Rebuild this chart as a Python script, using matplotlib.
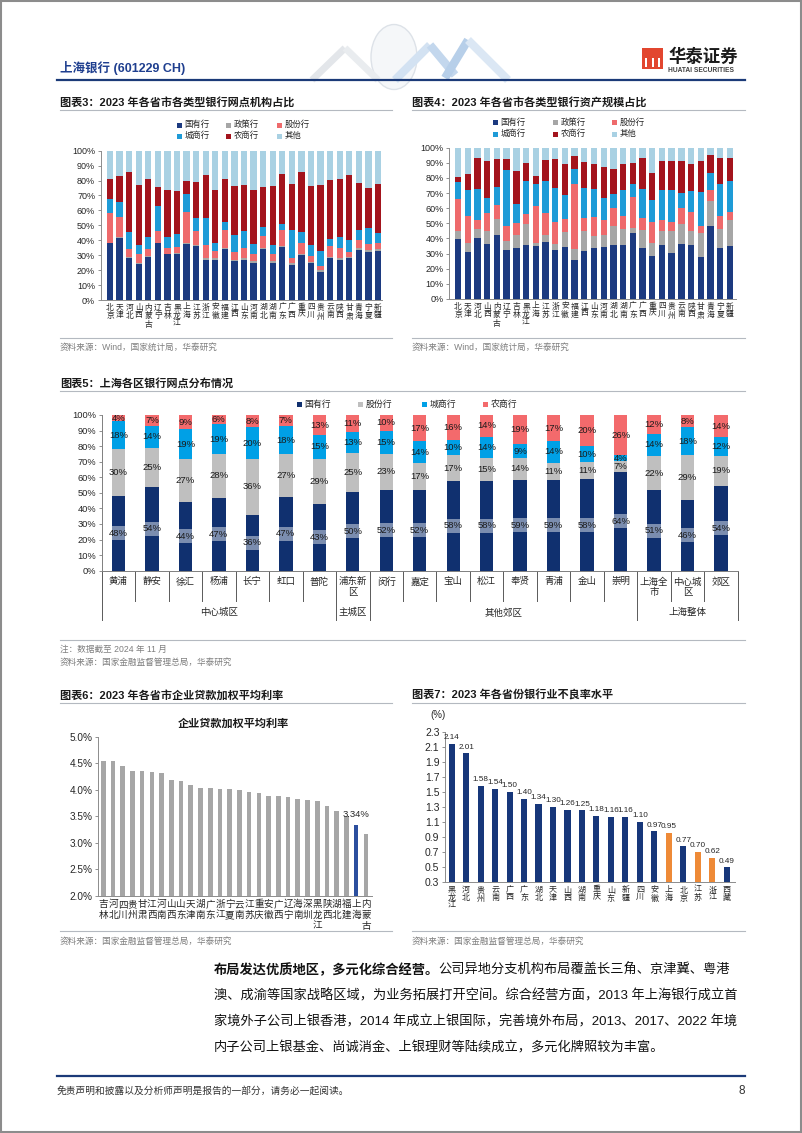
import matplotlib
matplotlib.use('Agg')
import matplotlib.pyplot as plt
from matplotlib.lines import Line2D
from matplotlib.patches import Rectangle, Circle
import matplotlib.transforms as mtransforms
import numpy as np

plt.rcParams['font.family'] = ['Liberation Sans', 'Noto Sans CJK SC']
plt.rcParams['axes.unicode_minus'] = False

# ---------------- data ----------------
provinces = ['北京', '天津', '河北', '山西', '内蒙古', '辽宁', '吉林', '黑龙江', '上海', '江苏',
             '浙江', '安徽', '福建', '江西', '山东', '河南', '湖北', '湖南', '广东', '广西',
             '重庆', '四川', '贵州', '云南', '陕西', '甘肃', '青海', '宁夏', '新疆']
bank_types = ['国有行', '政策行', '股份行', '城商行', '农商行', '其他']

# Figure 3: branch share (%)
branch_state = [38, 41.5, 28, 24, 28.5, 38, 30.5, 30.5, 37.5, 36, 27, 27, 34, 26, 27, 25, 34, 25, 35.5, 23.5,
                30, 24.5, 19, 28, 26.5, 28, 33.5, 32, 33]
branch_policy = [0.5, 0.5, 1, 1, 1, 0.5, 0.5, 1, 0.5, 1, 1, 1, 1, 1, 1, 1, 1, 1, 0.5, 1.5,
                 1, 1, 1, 1, 1.5, 1, 1.5, 1.5, 1]
branch_joint = [20, 13.5, 5, 6, 4.5, 8, 4, 4, 21, 9, 9, 4.5, 12, 5, 7, 5, 8, 4.5, 11, 3,
                7, 4, 3, 7.5, 7, 3, 5, 4, 4]
branch_city = [9, 10, 11.5, 6, 8.5, 16.5, 7.5, 8.5, 12, 9, 18, 6, 5, 11.5, 11, 6.5, 6, 6.5, 4, 19,
               7.5, 7.5, 10, 4.5, 7, 8.5, 7, 11, 7]
branch_rural = [13.5, 17.5, 40, 40, 38.5, 13, 31, 29, 8.5, 24, 29, 35.5, 29, 33, 31, 36, 26.5, 39.5, 33.5, 31,
                40, 39.5, 44, 39.5, 39, 43.5, 31.5, 26.5, 32.5]
branch_other = [19, 17, 14.5, 23, 19, 24, 26.5, 27, 20.5, 21, 16, 26, 19, 23.5, 23, 26.5, 24.5, 23.5, 15.5, 22,
                14.5, 23.5, 23, 19.5, 19, 16, 21.5, 25, 22.5]

# Figure 4: asset share (%)
asset_state = [39.5, 31, 40.5, 36.5, 42, 32.5, 33.5, 36, 35, 37.5, 32.5, 34.5, 26, 31.5, 34, 34.5, 35.5, 35.5, 43.5, 33.5,
               28.5, 36, 30.5, 36.5, 35.5, 27.5, 48, 33.5, 35]
asset_policy = [5.5, 6, 5.5, 8.5, 11, 6, 9, 13.5, 2, 5, 4, 9.5, 7, 13.5, 7.5, 7.5, 13, 11, 3.5, 12,
                8.5, 9, 14.5, 13, 9.5, 16, 16.5, 13, 17]
asset_joint = [21, 18, 6, 12, 9, 9.5, 7.5, 7, 24.5, 14.5, 14.5, 9, 43, 8.5, 12.5, 10, 11.5, 8.5, 20.5, 8,
               14, 7.5, 6, 10.5, 12.5, 5, 7.5, 8.5, 5.5]
asset_city = [11.5, 17, 20.5, 10, 12, 37, 13, 21.5, 14.5, 21, 22.5, 16, 10, 20, 18.5, 15, 9.5, 17, 8.5, 19,
              14.5, 19.5, 21, 10, 14, 22.5, 11, 21, 20.5]
asset_rural = [3, 10.5, 20.5, 24, 18.5, 7.5, 21.5, 12, 5, 14, 19, 20, 8.5, 17, 17, 20, 16.5, 17.5, 14, 20.5,
               17.5, 19.5, 19.5, 21.5, 18, 20.5, 12.5, 17, 15.5]
asset_other = [19.5, 17.5, 7, 9, 7.5, 7.5, 15.5, 10, 19, 8, 7.5, 11, 5.5, 9.5, 10.5, 13, 14, 10.5, 10, 7,
               17, 8.5, 8.5, 8.5, 10.5, 8.5, 4.5, 7, 6.5]

# Figure 5: Shanghai districts (%)
districts = ['黄浦', '静安', '徐汇', '杨浦', '长宁', '虹口', '普陀', '浦东新区', '闵行', '嘉定', '宝山', '松江',
             '奉贤', '青浦', '金山', '崇明', '上海全市', '中心城区', '郊区']
district_groups = ['中心城区', '主城区', '其他郊区', '上海整体']
district_group_sizes = [7, 1, 8, 3]
dist_types = ['国有行', '股份行', '城商行', '农商行']
dist_state = [48, 54, 44, 47, 36, 47, 43, 50, 52, 52, 58, 58, 59, 59, 58, 64, 51, 46, 54]
dist_joint = [30, 25, 27, 28, 36, 27, 29, 25, 23, 17, 17, 15, 14, 11, 11, 7, 22, 29, 19]
dist_city = [18, 14, 19, 19, 20, 18, 15, 13, 15, 14, 10, 14, 9, 14, 10, 4, 14, 18, 12]
dist_rural = [4, 7, 9, 6, 8, 7, 13, 11, 10, 17, 16, 14, 19, 17, 20, 26, 12, 8, 14]

# Figure 6: corporate loan weighted average rate (%)
rate_regions = ['吉林', '河北', '四川', '贵州', '甘肃', '江西', '河南', '山西', '山东', '天津', '湖南', '广东',
                '浙江', '宁夏', '云南', '江苏', '重庆', '安徽', '广西', '辽宁', '海南', '深圳', '黑龙江', '陕西',
                '湖北', '福建', '上海', '内蒙古']
rates = [4.55, 4.55, 4.45, 4.36, 4.35, 4.33, 4.31, 4.18, 4.17, 4.09, 4.04, 4.03, 4.02, 4.01, 4.00, 3.96,
         3.94, 3.89, 3.89, 3.87, 3.83, 3.81, 3.79, 3.70, 3.60, 3.50, 3.34, 3.17]
rate_highlight = '上海'

# Figure 7: NPL ratio (%)
npl_regions = ['黑龙江', '河北', '贵州', '云南', '广西', '广东', '湖北', '天津', '山西', '湖南', '重庆', '山东',
               '新疆', '四川', '安徽', '上海', '北京', '江苏', '浙江', '西藏']
npl = [2.14, 2.01, 1.58, 1.54, 1.50, 1.40, 1.34, 1.30, 1.26, 1.25, 1.18, 1.16, 1.16, 1.10, 0.97, 0.95,
       0.77, 0.70, 0.62, 0.49]
npl_highlight = ['上海', '江苏', '浙江']

# ---------------- figure helpers ----------------
W, H = 802, 1133
fig = plt.figure(figsize=(W / 100, H / 100), dpi=100)
fig.patch.set_facecolor('white')


def add_ax(l, t, r, b):
    return fig.add_axes([l / W, 1 - b / H, (r - l) / W, (b - t) / H])


def ftext(x, y, s, **kw):
    return fig.text(x / W, 1 - y / H, s, **kw)


def fline(x0, x1, y0, y1, **kw):
    fig.add_artist(Line2D([x0 / W, x1 / W], [1 - y0 / H, 1 - y1 / H], **kw))


def fsquare(x, y, size, color):
    fig.add_artist(Rectangle((x / W, 1 - (y + size / 2) / H), size / W, size / H,
                             transform=fig.transFigure, facecolor=color, edgecolor='none'))


def legend_item(x, y, color, label, fs):
    fsquare(x, y, 5, color)
    ftext(x + 7.5, y, label, fontsize=fs, va='center', ha='left', color='#262626')


TXT = '#262626'
GRAY = '#7f7f7f'

# page border
fig.add_artist(Rectangle((0.001, 0.001), 0.998, 0.998, transform=fig.transFigure,
                         facecolor='none', edgecolor='#8c8c8c', lw=1.5))

# ---------------- header ----------------
fig.add_artist(Circle((394 / W, 1 - 57 / H), 23 / W, transform=fig.transFigure,
                      facecolor='#f5f7f9', edgecolor='#dde2e8', lw=1.0))
fline(312, 345, 80, 48, color='#e3e6ea', lw=5, solid_capstyle='butt')
fline(345, 378, 48, 80, color='#e9ecef', lw=5, solid_capstyle='butt')
fline(395, 430, 80, 45, color='#d3e2f2', lw=6, solid_capstyle='butt')
fline(430, 455, 45, 75, color='#c3d7ed', lw=6, solid_capstyle='butt')
fline(445, 468, 78, 40, color='#b7cfe9', lw=6, solid_capstyle='butt')
fline(468, 508, 40, 80, color='#dbe7f4', lw=6, solid_capstyle='butt')

ftext(60, 68, '上海银行 (601229 CH)', fontsize=9, fontweight='bold', color='#1f3f8f', va='center')
fline(57, 745, 80, 80, color='#1b3a78', lw=1.6)
fig.add_artist(Rectangle((642 / W, 1 - 69 / H), 21 / W, 21 / H, transform=fig.transFigure,
                         facecolor='#e2462f', edgecolor='none'))
for dx in (4, 10.5, 17):
    fig.add_artist(Rectangle(((642 + dx - 1) / W, 1 - 67 / H), 2 / W, 9 / H, transform=fig.transFigure,
                             facecolor='white', edgecolor='none'))
ftext(668, 56, '华泰证券', fontsize=12.5, fontweight='bold', color='#1a1a1a', va='center')
ftext(668, 71, 'HUATAI SECURITIES', fontsize=4.8, fontweight='bold', color='#404040', va='center')


def section_title(x, y, s, x1):
    ftext(x, y, s, fontsize=8, fontweight='bold', color='#1a1a1a', va='center')
    fline(x, x1, y + 8, y + 8, color='#b4b9c0', lw=0.8)


section_title(60, 102, '图表3：2023 年各省市各类型银行网点机构占比', 392)
section_title(412, 102, '图表4：2023 年各省市各类型银行资产规模占比', 745)

# ---------------- Figures 3 & 4 ----------------
prov_colors = ['#1c3a80', '#a6a6a6', '#ee6a6c', '#1e9bd7', '#a3141d', '#a9d1e3']


def province_chart(ax, series, xlim):
    x = np.arange(len(provinces))
    bottom = np.zeros(len(provinces))
    for vals, c in zip(series, prov_colors):
        v = np.array(vals, dtype=float) / 100
        ax.bar(x, v, 0.66, bottom=bottom, color=c, linewidth=0)
        bottom += v
    ax.set_xlim(*xlim)
    ax.set_ylim(0, 1)
    ax.set_yticks(np.arange(0, 1.001, 0.1))
    ax.set_yticklabels([f'{i}%' for i in range(0, 101, 10)], fontsize=6.5, color=TXT)
    ax.set_xticks(x)
    ax.set_xticklabels(['\n'.join(p) for p in provinces], fontsize=5.6, linespacing=1.05,
                       va='top', color=TXT)
    ax.tick_params(axis='x', length=0, pad=3)
    ax.tick_params(axis='y', length=2.5, width=0.6, pad=1.5, color='#7f7f7f')
    for s in ['top', 'right']:
        ax.spines[s].set_visible(False)
    for s in ['left', 'bottom']:
        ax.spines[s].set_color('#8c8c8c')
        ax.spines[s].set_linewidth(0.7)


ax3 = add_ax(100.7, 150.7, 382, 300)
province_chart(ax3, [branch_state, branch_policy, branch_joint, branch_city, branch_rural, branch_other],
               (-0.97, 28.42))
ax4 = add_ax(449, 147.7, 736, 299)
province_chart(ax4, [asset_state, asset_policy, asset_joint, asset_city, asset_rural, asset_other],
               (-0.93, 28.62))

for (xs, ys) in [((177, 226, 277), (125, 136)), ((493, 553, 612), (122.3, 134))]:
    for i, (lab, col) in enumerate(zip(bank_types, prov_colors)):
        legend_item(xs[i % 3], ys[i // 3], col, lab, 6)

fline(60, 392, 338, 338, color='#b4b9c0', lw=0.8)
fline(412, 745, 338, 338, color='#b4b9c0', lw=0.8)
ftext(60, 347, '资料来源：Wind，国家统计局，华泰研究', fontsize=6.2, color=GRAY, va='center')
ftext(412, 347, '资料来源：Wind，国家统计局，华泰研究', fontsize=6.2, color=GRAY, va='center')

# ---------------- Figure 5 ----------------
section_title(60, 383, '图表5：上海各区银行网点分布情况', 745)
dist_colors = ['#10306f', '#bfbfbf', '#00a0e6', '#f36a6c']
ax5 = add_ax(101.7, 415, 737.75, 570.7)
xd = np.arange(len(districts))
series5 = np.array([dist_state, dist_joint, dist_city, dist_rural], dtype=float)
totals = series5.sum(axis=0)
bw = 0.4
bottom = np.zeros(len(districts))
for k, (vals, c) in enumerate(zip(series5, dist_colors)):
    v = vals / totals
    ax5.bar(xd, v, bw, bottom=bottom, color=c, linewidth=0)
    for i in range(len(districts)):
        if k == 0:
            yc = v[i] / 2
            ax5.add_patch(Rectangle((xd[i] - bw / 2, yc - 0.045), bw, 0.09, facecolor='white',
                                    alpha=0.45, edgecolor='none'))
        else:
            yc = bottom[i] + v[i] / 2
        ax5.text(xd[i], yc, f'{int(vals[i])}%', ha='center', va='center', fontsize=6.8, color='#1a1a1a')
    bottom += v
ax5.set_xlim(-0.5, 18.5)
ax5.set_ylim(0, 1)
ax5.set_yticks(np.arange(0, 1.001, 0.1))
ax5.set_yticklabels([f'{i}%' for i in range(0, 101, 10)], fontsize=6.7, color=TXT)
ax5.set_xticks([])
ax5.tick_params(axis='y', length=2.5, width=0.6, pad=1.5, color='#7f7f7f')
for s in ['top', 'right']:
    ax5.spines[s].set_visible(False)
for s in ['left', 'bottom']:
    ax5.spines[s].set_color('#7f7f7f')
    ax5.spines[s].set_linewidth(0.7)
trans5 = mtransforms.blended_transform_factory(ax5.transData, ax5.transAxes)
h5 = 570.7 - 415
boundaries = [-0.5]
for s in district_group_sizes:
    boundaries.append(boundaries[-1] + s)
for i in range(len(districts) + 1):
    xb = i - 0.5
    long = any(abs(xb - b) < 1e-6 for b in boundaries)
    y_end = -(49 if long else 30) / h5
    ax5.add_line(Line2D([xb, xb], [0, y_end], transform=trans5, clip_on=False, color='#595959', lw=0.7))
for i, name in enumerate(districts):
    lab = name if len(name) <= 3 else name[:3] + '\n' + name[3:]
    ax5.text(i, -6.5 / h5, lab, transform=trans5, ha='center', va='top', fontsize=6.8,
             linespacing=1.2, color=TXT)
start = 0
for g, s in zip(district_groups, district_group_sizes):
    ax5.text(start + (s - 1) / 2, -42 / h5, g, transform=trans5, ha='center', va='center',
             fontsize=6.8, color=TXT)
    start += s
for xl, lab, col in zip((296.7, 358, 421.7, 483), dist_types, dist_colors):
    legend_item(xl, 404, col, lab, 6.4)

fline(60, 745, 640, 640, color='#b4b9c0', lw=0.8)
ftext(60, 649, '注：数据截至 2024 年 11 月', fontsize=6.2, color=GRAY, va='center')
ftext(60, 662, '资料来源：国家金融监督管理总局，华泰研究', fontsize=6.2, color=GRAY, va='center')

# ---------------- Figure 6 ----------------
section_title(60, 695, '图表6：2023 年各省市企业贷款加权平均利率', 392)
ax6 = add_ax(98.3, 736.7, 371.7, 895.7)
x6 = np.arange(len(rate_regions))
c6 = ['#2c4f9e' if r == rate_highlight else '#a6a6a6' for r in rate_regions]
ax6.bar(x6, np.array(rates) - 2.0, 0.48, bottom=2.0, color=c6, linewidth=0)
ax6.set_ylim(2.0, 5.0)
ax6.set_xlim(-0.51, 27.6)
ax6.set_yticks(np.arange(2.0, 5.01, 0.5))
ax6.set_yticklabels([f'{v:.1f}%' for v in np.arange(2.0, 5.01, 0.5)], fontsize=7.2, color=TXT)
ax6.set_xticks(x6)
ax6.set_xticklabels(['\n'.join(r) for r in rate_regions], fontsize=6.9, linespacing=1.1,
                    va='top', color=TXT)
ax6.tick_params(axis='x', length=0, pad=2.5)
ax6.tick_params(axis='y', length=2.5, width=0.6, pad=1.5, color='#7f7f7f')
for s in ['top', 'right']:
    ax6.spines[s].set_visible(False)
for s in ['left', 'bottom']:
    ax6.spines[s].set_color('#8c8c8c')
    ax6.spines[s].set_linewidth(0.7)
hi = rate_regions.index(rate_highlight)
ax6.annotate(f'{rates[hi]:.2f}%', (x6[hi], rates[hi]), xytext=(0, 4), textcoords='offset points',
             ha='center', va='bottom', fontsize=6.8, color=TXT)
ftext(233, 723, '企业贷款加权平均利率', fontsize=8, fontweight='bold', color='#1a1a1a',
      ha='center', va='center')

# ---------------- Figure 7 ----------------
section_title(412, 695, '图表7：2023 年各省份银行业不良率水平', 745)
ax7 = add_ax(445, 731.7, 735, 881.7)
x7 = np.arange(len(npl_regions))
c7 = ['#ee8a37' if r in npl_highlight else '#17377a' for r in npl_regions]
ax7.bar(x7, np.array(npl) - 0.3, 0.42, bottom=0.3, color=c7, linewidth=0)
ax7.set_ylim(0.3, 2.3)
ax7.set_xlim(-0.46, 19.57)
ax7.set_yticks(np.arange(0.3, 2.31, 0.2))
ax7.set_yticklabels([f'{v:.1f}' for v in np.arange(0.3, 2.31, 0.2)], fontsize=7.5, color=TXT)
ax7.set_xticks(x7)
ax7.set_xticklabels(['\n'.join(r) for r in npl_regions], fontsize=5.8, linespacing=1.05,
                    va='top', color=TXT)
ax7.tick_params(axis='x', length=0, pad=3.5)
ax7.tick_params(axis='y', length=2.5, width=0.6, pad=1.5, color='#7f7f7f')
for s in ['top', 'right']:
    ax7.spines[s].set_visible(False)
for s in ['left', 'bottom']:
    ax7.spines[s].set_color('#8c8c8c')
    ax7.spines[s].set_linewidth(0.7)
for xi, v in zip(x7, npl):
    ax7.annotate(f'{v:.2f}', (xi, v), xytext=(0, 2), textcoords='offset points',
                 ha='center', va='bottom', fontsize=5.9, color=TXT)
ftext(438, 715, '(%)', fontsize=7, color=TXT, ha='center', va='center')

fline(60, 392, 931, 931, color='#b4b9c0', lw=0.8)
fline(412, 745, 931, 931, color='#b4b9c0', lw=0.8)
ftext(60, 941, '资料来源：国家金融监督管理总局，华泰研究', fontsize=6.2, color=GRAY, va='center')
ftext(412, 941, '资料来源：国家金融监督管理总局，华泰研究', fontsize=6.2, color=GRAY, va='center')

# ---------------- paragraph ----------------
para_fs = 9.5
em_px = para_fs / 72 * 100
px0 = 214
bold_part = '布局发达优质地区，多元化综合经营。'
ftext(px0, 970, bold_part, fontsize=para_fs, fontweight='bold', color='#111111', va='center')
ftext(px0 + len(bold_part) * em_px, 970, '公司异地分支机构布局覆盖长三角、京津冀、粤港',
      fontsize=para_fs, color='#111111', va='center')
para_lines = ['澳、成渝等国家战略区域，为业务拓展打开空间。综合经营方面，2013 年上海银行成立首',
              '家境外子公司上银香港，2014 年成立上银国际，完善境外布局，2013、2017、2022 年境',
              '内子公司上银基金、尚诚消金、上银理财等陆续成立，多元化牌照较为丰富。']
for k, line in enumerate(para_lines):
    ftext(px0, 996 + 26 * k, line, fontsize=para_fs, color='#111111', va='center')

# ---------------- footer ----------------
fline(57, 745, 1076, 1076, color='#1b3a78', lw=1.6)
ftext(57, 1091, '免责声明和披露以及分析师声明是报告的一部分，请务必一起阅读。', fontsize=7, color='#333333',
      va='center', style='italic')
ftext(745, 1091, '8', fontsize=8.5, color='#333333', va='center', ha='right')

fig.savefig('out.png', dpi=100)
